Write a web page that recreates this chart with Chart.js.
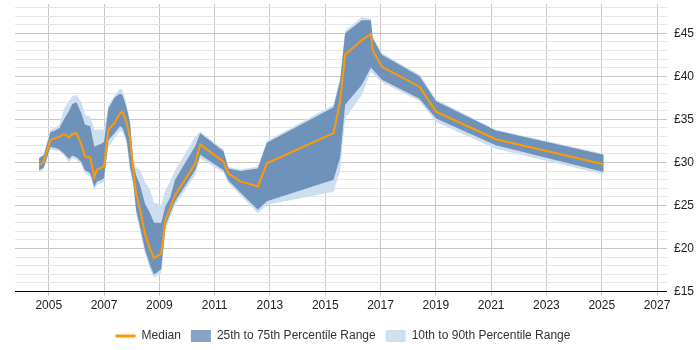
<!DOCTYPE html>
<html>
<head>
<meta charset="utf-8">
<script src="https://cdn.jsdelivr.net/npm/chart.js@4/dist/chart.umd.min.js"></script>
<style>
    html, body { margin: 0; padding: 0; background: #fff; }
    #wrap { width: 700px; height: 350px; }
</style>
</head>
<body>
<div id="wrap"><canvas id="rateChart" width="700" height="350"></canvas></div>
<script>
// Sample dates as decimal years
const years = [
    2004.65, 2004.82, 2005.06, 2005.23, 2005.39, 2005.55, 2005.74, 2005.85, 2006.0, 2006.17,
    2006.31, 2006.5, 2006.65, 2006.75, 2006.92, 2007.0, 2007.16, 2007.38, 2007.58, 2007.67,
    2007.82, 2007.94, 2008.06, 2008.16, 2008.3, 2008.48, 2008.67, 2008.81, 2009.07, 2009.22,
    2009.39, 2009.57, 2010.3, 2010.48, 2011.32, 2011.5, 2011.93, 2012.56, 2012.89, 2015.3,
    2015.54, 2015.72, 2016.32, 2016.65, 2016.72, 2017.05, 2018.41, 2019.01, 2021.17, 2025.07
];
const median = [
    29.6, 30.1, 32.6, 32.8, 33.0, 33.3, 32.9, 33.3, 33.4, 32.2,
    30.7, 30.6, 28.3, 29.2, 29.4, 29.6, 33.8, 34.6, 35.7, 35.9,
    34.6, 32.8, 29.1, 26.4, 24.6, 21.7, 19.9, 18.9, 19.4, 23.3,
    24.7, 26.2, 29.9, 32.1, 30.1, 28.7, 27.8, 27.2, 29.9, 33.4,
    37.1, 42.5, 44.2, 44.9, 43.0, 41.1, 38.8, 35.9, 32.7, 29.8
];
const p25 = [
    29.1, 29.4, 31.8, 31.7, 31.5, 31.0, 30.4, 30.8, 30.6, 30.1,
    29.1, 28.75, 27.2, 27.8, 28.0, 28.2, 32.6, 33.4, 34.2, 34.0,
    32.6, 29.5, 27.6, 24.5, 22.6, 19.9, 18.0, 17.0, 17.6, 22.6,
    24.1, 25.5, 29.1, 30.9, 29.1, 27.9, 26.5, 24.5, 25.5, 28.0,
    30.6, 36.7, 39.0, 41.0, 40.8, 39.6, 37.4, 35.1, 32.0, 28.9
];
const p75 = [
    30.5, 30.8, 33.5, 33.7, 34.0, 35.0, 36.0, 36.8, 37.0, 35.8,
    34.4, 34.2, 31.8, 32.0, 32.2, 32.4, 36.3, 37.5, 38.0, 37.8,
    36.3, 34.6, 29.9, 28.5, 27.4, 25.2, 24.1, 23.0, 23.0, 24.9,
    25.9, 28.0, 31.9, 33.4, 31.3, 29.3, 29.0, 29.3, 32.3, 36.4,
    39.5, 45.0, 46.5, 46.5, 44.4, 42.5, 40.0, 37.1, 33.7, 30.9
];
const p10 = [
    28.9, 29.2, 31.5, 31.4, 31.3, 30.8, 30.0, 30.5, 30.3, 29.8,
    28.75, 28.4, 26.8, 27.4, 27.6, 27.8, 31.8, 32.8, 33.7, 33.5,
    32.2, 29.0, 27.2, 24.0, 22.1, 19.4, 17.5, 16.6, 17.2, 22.0,
    23.6, 25.1, 28.5, 30.5, 28.8, 27.6, 26.2, 24.1, 25.1, 26.6,
    29.0, 35.1, 37.8, 40.5, 40.3, 39.3, 37.1, 34.7, 31.6, 28.6
];
const p90 = [
    30.6, 31.0, 33.8, 34.0, 34.4, 36.2, 37.2, 37.7, 37.8, 37.1,
    35.5, 35.3, 33.8, 33.8, 33.8, 33.8, 36.7, 37.8, 38.6, 38.4,
    36.7, 34.8, 30.3, 29.5, 29.1, 27.8, 26.8, 25.3, 25.1, 26.8,
    27.8, 29.1, 33.0, 33.6, 31.5, 29.5, 29.2, 29.5, 32.5, 36.7,
    40.0, 45.3, 46.9, 46.7, 44.6, 42.7, 40.2, 37.3, 33.8, 31.0
];

// Axis ticks
const xTicks = [2005, 2007, 2009, 2011, 2013, 2015, 2017, 2019, 2021, 2023, 2025, 2027];
const yTicks = [];
for (let v = 15; v <= 48; v++) yTicks.push(v);

const FONT = 'Arial, "Liberation Sans", sans-serif';
const ORANGE = '#ff9900';
const DARK = 'rgb(110, 146, 186)';
const LIGHT = 'rgb(204, 222, 239)';
const DARK_KEY = 'rgb(134, 163, 197)';
const LIGHT_KEY = 'rgb(207, 224, 240)';

function toPoints(values) {
    return years.map((x, i) => ({ x: x, y: values[i] }));
}

function bandLine(values, label, fill, color, order) {
    return {
        label: label,
        data: toPoints(values),
        borderColor: 'transparent',
        borderWidth: 0,
        backgroundColor: color,
        pointRadius: 0,
        pointHoverRadius: 0,
        tension: 0,
        fill: fill,
        order: order
    };
}

// Centre the legend under the plot area rather than the whole canvas
const legendShift = {
    id: 'legendShift',
    afterLayout(chart) {
        const lg = chart.legend;
        if (!lg) return;
        lg.left -= 15;
        lg.right -= 15;
        lg.top += 4;
        lg.bottom += 4;
    }
};

const ctx = document.getElementById('rateChart');

new Chart(ctx, {
    type: 'line',
    data: {
        datasets: [
            {
                label: 'Median',
                data: toPoints(median),
                borderColor: ORANGE,
                backgroundColor: ORANGE,
                borderWidth: 2,
                pointRadius: 0,
                tension: 0,
                fill: false,
                order: 0
            },
            bandLine(p75, '25th to 75th Percentile Range', '+1', DARK, 1),
            bandLine(p25, '', false, DARK, 1),
            bandLine(p90, '10th to 90th Percentile Range', '+1', LIGHT, 2),
            bandLine(p10, '', false, LIGHT, 2)
        ]
    },
    plugins: [legendShift],
    options: {
        responsive: false,
        animation: false,
        devicePixelRatio: 1,
        layout: {
            padding: { left: 15, right: -1, top: 4, bottom: 2 }
        },
        plugins: {
            tooltip: { enabled: false },
            legend: {
                position: 'bottom',
                labels: {
                    color: '#333',
                    font: { family: FONT, size: 12 },
                    usePointStyle: true,
                    pointStyleWidth: 20,
                    boxHeight: 12,
                    padding: 10,
                    generateLabels: function () {
                        return [
                            { text: 'Median', pointStyle: 'line', strokeStyle: ORANGE, fillStyle: ORANGE, lineWidth: 3, datasetIndex: 0, fontColor: '#333' },
                            { text: '25th to 75th Percentile Range', pointStyle: 'rect', strokeStyle: DARK_KEY, fillStyle: DARK_KEY, lineWidth: 0, datasetIndex: 1, fontColor: '#333' },
                            { text: '10th to 90th Percentile Range', pointStyle: 'rect', strokeStyle: LIGHT_KEY, fillStyle: LIGHT_KEY, lineWidth: 0, datasetIndex: 3, fontColor: '#333' }
                        ];
                    }
                }
            }
        },
        scales: {
            x: {
                type: 'linear',
                min: 2003.78,
                max: 2027.36,
                afterBuildTicks: function (scale) {
                    scale.ticks = xTicks.map(v => ({ value: v }));
                },
                ticks: {
                    autoSkip: false,
                    maxRotation: 0,
                    padding: 3,
                    color: '#222',
                    font: { family: FONT, size: 12 },
                    callback: function (value) {
                        return String(value);
                    }
                },
                grid: {
                    color: '#c8c8c8',
                    tickLength: 4,
                    tickColor: '#c8c8c8'
                },
                border: { display: true, color: '#000', width: 1 }
            },
            y: {
                position: 'right',
                min: 15,
                max: 48.4,
                afterBuildTicks: function (scale) {
                    scale.ticks = yTicks.map(v => ({ value: v }));
                },
                afterFit: function (scale) {
                    // no extra room for the empty label at the top
                    scale.paddingTop = 0;
                },
                ticks: {
                    autoSkip: false,
                    padding: 7,
                    color: '#222',
                    font: { family: FONT, size: 12 },
                    callback: function (value) {
                        return value % 5 === 0 ? '£' + value : '';
                    }
                },
                grid: {
                    drawTicks: false,
                    color: function (c) {
                        return c.tick && c.tick.value % 5 === 0 ? '#c8c8c8' : '#e6e6e6';
                    }
                },
                border: { display: false }
            }
        }
    }
});
</script>
</body>
</html>
